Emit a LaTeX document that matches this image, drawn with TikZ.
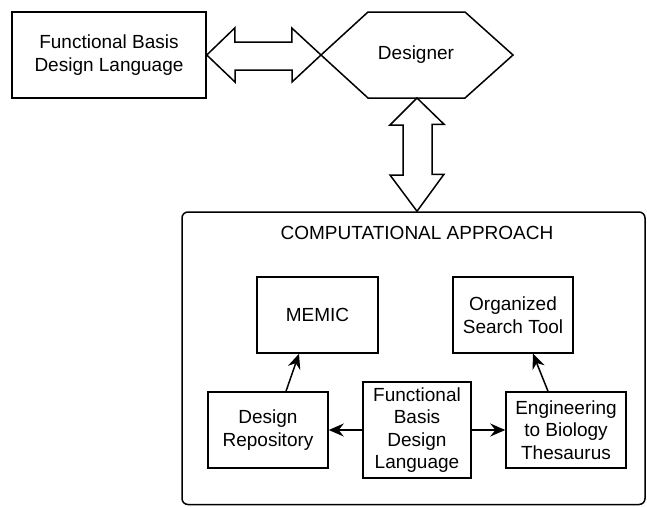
\documentclass[tikz,border=0pt]{standalone}
\usepackage{fontspec}
\setmainfont{Liberation Sans}
\usetikzlibrary{arrows.meta,calc}
\begin{document}
\begin{tikzpicture}[x=1pt,y=-1pt,
  line width=1.5pt, line join=miter,
  every node/.style={font=\fontsize{19}{22.5}\selectfont},
  box/.style={draw, inner sep=0pt, align=center},
  fatarrow/.style={draw, fill=white, line width=1.5pt},
  link/.style={-{Stealth[length=15pt,width=13pt,inset=5pt]}, line width=1.5pt}]
\useasboundingbox (0,0) rectangle (647,506);

% outer frame of the computational approach
\node[box, rounded corners=6pt, minimum width=463pt, minimum height=292.5pt] (comp) at (413.5,358.25) {};
\node (title) at (417,233) {COMPUTATIONAL APPROACH};

% top level
\node[box, minimum width=194pt, minimum height=86pt] (fbl) at (109,55) {Functional Basis\\Design Language};

% hexagon for the designer
\coordinate (hexW) at (321,55);
\coordinate (hexE) at (513,55);
\coordinate (hexS) at (417,98);
\draw (hexW) -- (368,12) -- (465,12) -- (hexE) -- (465,98) -- (368,98) -- cycle;
\node (des) at (416,55) {Designer};

% double arrow between the language box and the designer
\draw[fatarrow] (fbl.east) -- ++(28,-27) -- ++(0,14) -- ++(57,0) -- ++(0,-14)
  -- (hexW) -- ++(-29,27) -- ++(0,-12) -- ++(-57,0) -- ++(0,12) -- cycle;

% double arrow between the designer and the computational approach
\draw[fatarrow] (hexS) -- ++(-27,27) -- ++(13,0) -- ++(0,50) -- ++(-13,0)
  -- (hexS |- comp.north) -- ++(27,-37) -- ++(-12,0) -- ++(0,-50) -- ++(12,0) -- cycle;

% inner tools
\node[box, minimum width=121pt, minimum height=76pt] (memic) at (317.5,315) {MEMIC};
\node[box, minimum width=120pt, minimum height=76pt] (ost) at (513,315) {Organized\\Search Tool};
\node[box, minimum width=120pt, minimum height=76pt] (repo) at (268,430) {Design\\Repository};
\node[box, minimum width=108pt, minimum height=96pt] (fbc) at (417,430) {Functional\\Basis\\Design\\Language};
\node[box, minimum width=120pt, minimum height=76pt] (ebt) at (566,430) {Engineering\\to Biology\\Thesaurus};

\draw[link] (fbc.west) -- (repo.east);
\draw[link] (fbc.east) -- (ebt.west);
\draw[link] ([xshift=18pt]repo.north) -- ([xshift=-18.5pt]memic.south);
\draw[link] ([xshift=-18pt]ebt.north) -- ([xshift=20pt]ost.south);
\end{tikzpicture}
\end{document}
